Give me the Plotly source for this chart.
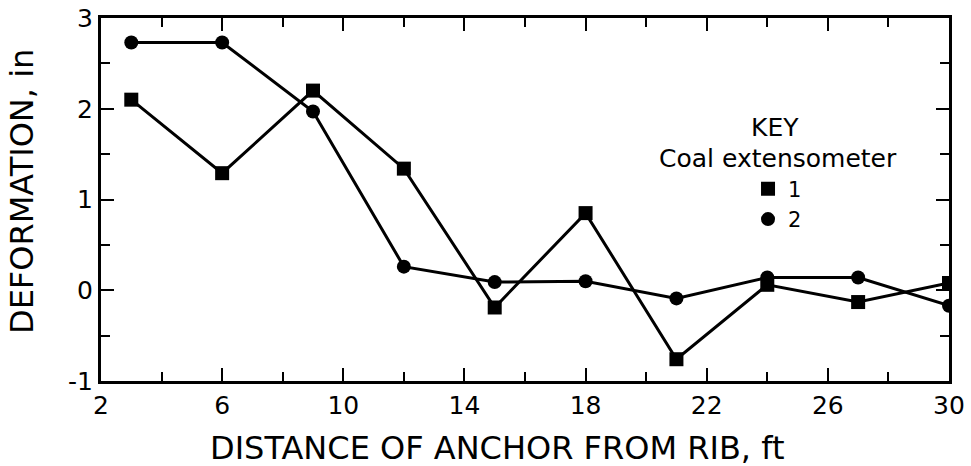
import plotly.graph_objects as go

distance = [3, 6, 9, 12, 15, 18, 21, 24, 27, 30]
ext1 = [2.10, 1.29, 2.20, 1.34, -0.19, 0.85, -0.76, 0.06, -0.13, 0.08]
ext2 = [2.73, 2.73, 1.97, 0.26, 0.09, 0.10, -0.09, 0.14, 0.14, -0.17]

x_ticks = [2, 6, 10, 14, 18, 22, 26, 30]
y_ticks = [-1, 0, 1, 2, 3]

FONT = "DejaVu Sans, sans-serif"

fig = go.Figure()
fig.add_trace(go.Scatter(x=distance, y=ext1, mode="lines+markers", showlegend=False,
                         line=dict(color="black", width=3),
                         marker=dict(symbol="square", size=14, color="black")))
fig.add_trace(go.Scatter(x=distance, y=ext2, mode="lines+markers", showlegend=False,
                         line=dict(color="black", width=3),
                         marker=dict(symbol="circle", size=14, color="black")))
fig.add_trace(go.Scatter(x=[None], y=[None], mode="markers", name="1",
                         marker=dict(symbol="square", size=14, color="black")))
fig.add_trace(go.Scatter(x=[None], y=[None], mode="markers", name="2",
                         marker=dict(symbol="circle", size=14, color="black")))

axis_common = dict(showgrid=False, zeroline=False, showline=True, linecolor="black",
                   linewidth=3, ticks="inside", mirror="ticks", ticklen=13, tickwidth=2,
                   tickcolor="black", automargin=False, ticklabeloverflow="allow",
                   tickfont=dict(size=25, color="black", family=FONT))

fig.update_xaxes(range=[2, 30], tickvals=x_ticks, ticktext=[str(v) for v in x_ticks],
                 minor=dict(dtick=2, tick0=2, ticks="inside", ticklen=9, tickwidth=2, tickcolor="black"),
                 **axis_common)
fig.update_yaxes(range=[-1, 3], tickvals=y_ticks, ticktext=[str(v) for v in y_ticks],
                 minor=dict(dtick=0.5, tick0=0, ticks="inside", ticklen=9, tickwidth=2, tickcolor="black"),
                 **axis_common)

# axis titles
fig.add_annotation(text="DISTANCE OF ANCHOR FROM RIB, ft", x=0.467, y=-0.185,
                   xref="paper", yref="paper", xanchor="center", yanchor="middle",
                   showarrow=False, font=dict(size=32, color="black", family=FONT))
fig.add_annotation(text="DEFORMATION, in", x=-0.093, y=0.521, textangle=-90,
                   xref="paper", yref="paper", xanchor="center", yanchor="middle",
                   showarrow=False, font=dict(size=32, color="black", family=FONT))

# key
fig.add_annotation(text="KEY", x=0.795, y=0.697, xref="paper", yref="paper",
                   xanchor="center", yanchor="middle",
                   showarrow=False, font=dict(size=25, color="black", family=FONT))
fig.add_annotation(text="Coal extensometer", x=0.798, y=0.614, xref="paper", yref="paper",
                   xanchor="center", yanchor="middle",
                   showarrow=False, font=dict(size=25, color="black", family=FONT))

fig.update_layout(
    width=971, height=466,
    margin=dict(l=101, r=22, t=18, b=85, autoexpand=False),
    paper_bgcolor="white", plot_bgcolor="white",
    font=dict(family=FONT, color="black"),
    legend=dict(x=0.763, y=0.585, xanchor="left", yanchor="top", bgcolor="rgba(0,0,0,0)",
                font=dict(size=21, color="black", family=FONT), tracegroupgap=0,
                itemwidth=30),
)

fig.write_html("out.html", config={"displayModeBar": False},
               post_script="document.body.style.margin='0';document.body.style.overflow='hidden';")
